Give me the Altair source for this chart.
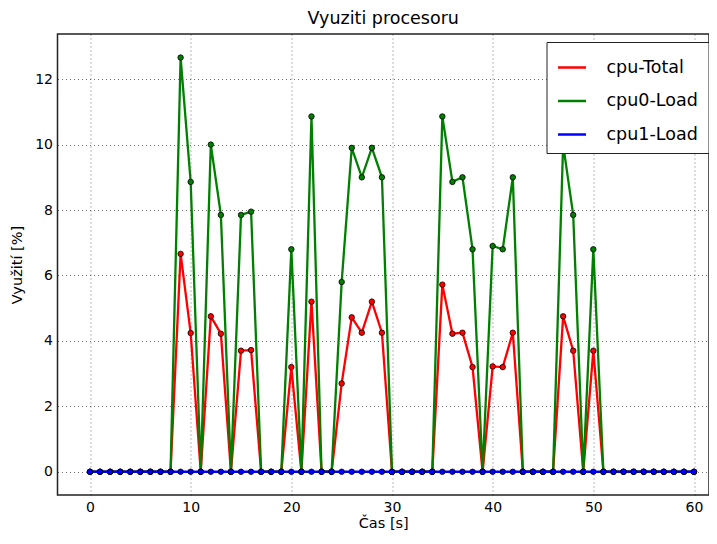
import altair as alt
import pandas as pd

t = list(range(0, 61))
cpu_total = [0]*9 + [6.66, 4.24, 0, 4.75, 4.22, 0, 3.70, 3.72, 0, 0, 0,
                     3.20, 0, 5.20, 0, 0, 2.70, 4.72, 4.25, 5.20, 4.25,
                     0, 0, 0, 0, 0, 5.72, 4.22, 4.25, 3.20, 0,
                     3.22, 3.20, 4.25, 0, 0, 0, 0, 4.75, 3.70, 0,
                     3.70, 0] + [0]*9
cpu0_load = [0]*9 + [12.66, 8.86, 0, 10.0, 7.85, 0, 7.85, 7.95, 0, 0, 0,
                     6.80, 0, 10.86, 0, 0, 5.80, 9.90, 9.00, 9.90, 9.00,
                     0, 0, 0, 0, 0, 10.86, 8.86, 9.00, 6.80, 0,
                     6.90, 6.80, 9.00, 0, 0, 0, 0, 10.0, 7.85, 0,
                     6.80, 0] + [0]*9
cpu1_load = [0]*61

series = ["cpu-Total", "cpu0-Load", "cpu1-Load"]
colors = ["#ff0000", "#008000", "#0000ff"]
x_ticks = [0, 10, 20, 30, 40, 50, 60]
y_ticks = [0, 2, 4, 6, 8, 10, 12]

rows = []
for name, vals in zip(series, [cpu_total, cpu0_load, cpu1_load]):
    for i, v in zip(t, vals):
        rows.append({"t": i, "v": v, "s": name})
df = pd.DataFrame(rows)

chart = alt.Chart(df).mark_line(
    strokeWidth=2.3,
    point=alt.OverlayMarkDef(filled=True, stroke="black", strokeWidth=0.8, size=30, opacity=1),
).encode(
    x=alt.X("t:Q", title="Čas [s]",
            scale=alt.Scale(domain=[-3.23, 61.49], nice=False, zero=False),
            axis=alt.Axis(values=x_ticks, ticks=False, labelPadding=5,
                          titlePadding=2)),
    y=alt.Y("v:Q", title="Využití [%]",
            scale=alt.Scale(domain=[-0.71, 13.38], nice=False, zero=False),
            axis=alt.Axis(values=y_ticks, ticks=False, labelPadding=5,
                          titlePadding=10)),
    color=alt.Color("s:N", scale=alt.Scale(domain=series, range=colors),
                    legend=alt.Legend(title=None, orient="none", legendX=489, legendY=8,
                                      symbolType="stroke", symbolStrokeWidth=2.5,
                                      symbolSize=784, labelFontSize=17.5, rowPadding=9.5,
                                      padding=10, strokeColor="#222", fillColor="white",
                                      labelOffset=19, labelLimit=250)),
    detail="s:N",
    order=alt.Order("t:Q"),
).properties(
    width=651.5,
    height=461,
    title=alt.TitleParams("Vyuziti procesoru", fontSize=17.5, fontWeight="normal",
                          font="DejaVu Sans", color="black", offset=7),
    padding={"left": 49.5, "top": 26, "right": 0, "bottom": 41},
    autosize=alt.AutoSizeParams(type="none"),
).configure_view(
    stroke="#222", strokeWidth=1.5
).configure_axis(
    labelFont="DejaVu Sans", titleFont="DejaVu Sans", labelFontSize=14, titleFontSize=14.5,
    titleFontWeight="normal", labelColor="black", titleColor="black",
    grid=True, gridColor="black", gridDash=[1, 3], gridOpacity=0.55, gridWidth=1,
    domain=False,
).configure_legend(
    labelFont="DejaVu Sans", labelColor="black"
)

chart.save("out.html", embed_options={"renderer": "svg", "actions": False})
